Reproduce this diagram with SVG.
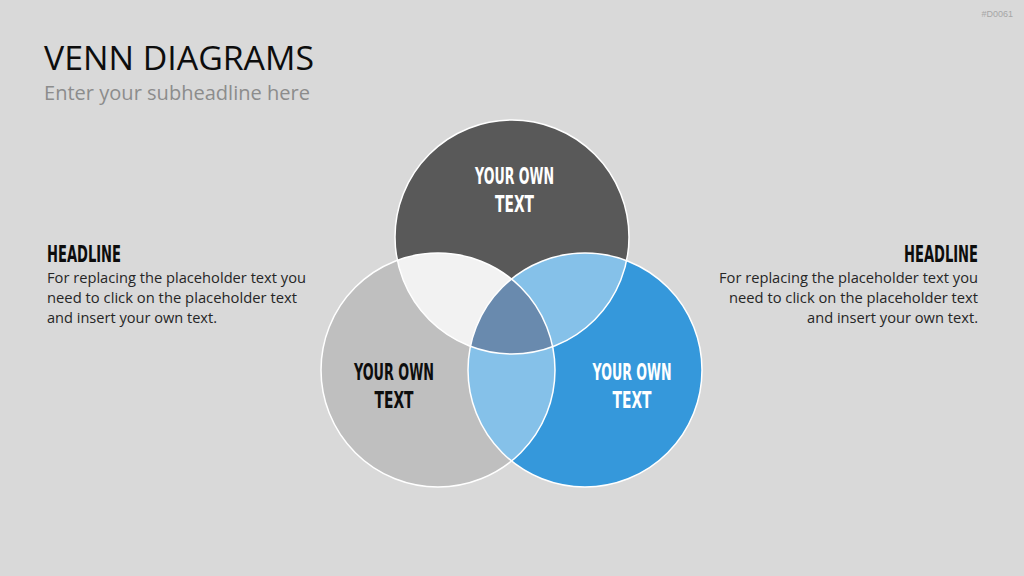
<svg xmlns="http://www.w3.org/2000/svg" width="1024" height="576" viewBox="0 0 1024 576">
<style>
.title{font-family:"Open Sans","Liberation Sans",sans-serif;font-size:32px;fill:#0d0d0d}
.sub{font-family:"Open Sans","Liberation Sans",sans-serif;font-size:20px;fill:#8c8c8c}
.code{font-family:"Liberation Sans",sans-serif;font-size:9px;fill:#a6a6a6}
.hd{font-family:"DejaVu Sans Condensed","DejaVu Sans",sans-serif;font-weight:bold;font-size:23px;font-stretch:condensed}
.body{font-family:"Open Sans","Liberation Sans",sans-serif;font-size:15px;fill:#262626}
.outline{fill:none;stroke:#ffffff;stroke-width:1.5}
</style>
<defs>
<clipPath id="cTop"><circle cx="512" cy="237" r="117"/></clipPath>
<clipPath id="cLeft"><circle cx="438" cy="370" r="117"/></clipPath>
<clipPath id="cRight"><circle cx="585" cy="370" r="117"/></clipPath>
</defs>
<rect width="1024" height="576" fill="#d9d9d9"/>
<text class="code" x="1013" y="17" text-anchor="end">#D0061</text>
<text class="title" x="44" y="70" textLength="270" lengthAdjust="spacingAndGlyphs">VENN DIAGRAMS</text>
<text class="sub" x="44" y="100" textLength="266" lengthAdjust="spacingAndGlyphs">Enter your subheadline here</text>

<g id="circle-top"><circle cx="512" cy="237" r="117" fill="#595959"/></g>
<g id="circle-left"><circle cx="438" cy="370" r="117" fill="#bfbfbf"/></g>
<g id="circle-right"><circle cx="585" cy="370" r="117" fill="#3598db"/></g>
<g id="overlaps">
<g clip-path="url(#cTop)"><circle cx="438" cy="370" r="117" fill="#f2f2f2"/></g>
<g clip-path="url(#cTop)"><circle cx="585" cy="370" r="117" fill="#85c1e9"/></g>
<g clip-path="url(#cLeft)"><circle cx="585" cy="370" r="117" fill="#85c1e9"/></g>
<g clip-path="url(#cTop)"><g clip-path="url(#cLeft)"><circle cx="585" cy="370" r="117" fill="#698aae"/></g></g>
</g>
<g id="outlines">
<circle class="outline" cx="512" cy="237" r="117"/>
<circle class="outline" cx="438" cy="370" r="117"/>
<circle class="outline" cx="585" cy="370" r="117"/>
</g>
<g id="label-top">
<text class="hd" x="514.5" y="184" text-anchor="middle" fill="#ffffff" textLength="79" lengthAdjust="spacingAndGlyphs">YOUR OWN</text>
<text class="hd" x="514.5" y="212" text-anchor="middle" fill="#ffffff" textLength="39" lengthAdjust="spacingAndGlyphs">TEXT</text>
</g>
<g id="label-left">
<text class="hd" x="394" y="380" text-anchor="middle" fill="#0d0d0d" textLength="80" lengthAdjust="spacingAndGlyphs">YOUR OWN</text>
<text class="hd" x="394" y="408" text-anchor="middle" fill="#0d0d0d" textLength="39" lengthAdjust="spacingAndGlyphs">TEXT</text>
</g>
<g id="label-right">
<text class="hd" x="632" y="380" text-anchor="middle" fill="#ffffff" textLength="79" lengthAdjust="spacingAndGlyphs">YOUR OWN</text>
<text class="hd" x="632" y="408" text-anchor="middle" fill="#ffffff" textLength="39" lengthAdjust="spacingAndGlyphs">TEXT</text>
</g>
<g id="text-left">
<text class="hd" x="47" y="262" fill="#0d0d0d" textLength="74" lengthAdjust="spacingAndGlyphs">HEADLINE</text>
<text class="body" x="47" y="283" textLength="259" lengthAdjust="spacingAndGlyphs">For replacing the placeholder text you</text>
<text class="body" x="47" y="303" textLength="250" lengthAdjust="spacingAndGlyphs">need to click on the placeholder text</text>
<text class="body" x="47" y="323" textLength="170" lengthAdjust="spacingAndGlyphs">and insert your own text.</text>
</g>
<g id="text-right">
<text class="hd" x="978" y="262" text-anchor="end" fill="#0d0d0d" textLength="74" lengthAdjust="spacingAndGlyphs">HEADLINE</text>
<text class="body" x="978" y="283" text-anchor="end" textLength="259" lengthAdjust="spacingAndGlyphs">For replacing the placeholder text you</text>
<text class="body" x="978" y="303" text-anchor="end" textLength="249" lengthAdjust="spacingAndGlyphs">need to click on the placeholder text</text>
<text class="body" x="978" y="323" text-anchor="end" textLength="171" lengthAdjust="spacingAndGlyphs">and insert your own text.</text>
</g>
</svg>
